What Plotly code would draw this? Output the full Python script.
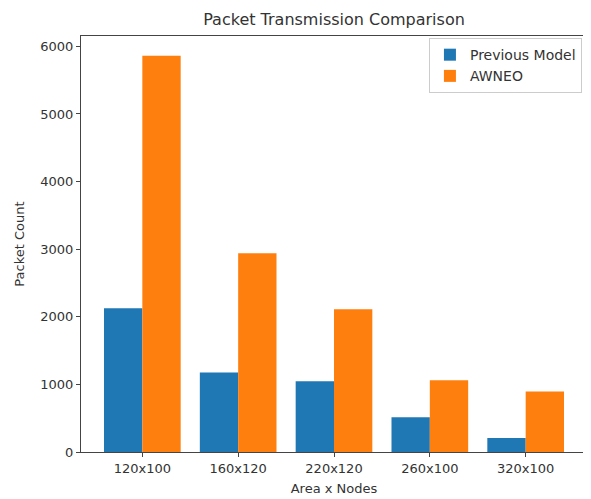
import plotly.graph_objects as go

categories = ["120x100", "160x120", "220x120", "260x100", "320x100"]
previous_model = [2125, 1175, 1048, 515, 207]
awneo = [5860, 2940, 2110, 1060, 893]
y_ticks = [0, 1000, 2000, 3000, 4000, 5000, 6000]

FONT = "DejaVu Sans"
# page body has an 8px default margin; size the figure so it fits the 591x499 window
W, H = 583, 491

fig = go.Figure()
fig.add_trace(go.Bar(x=categories, y=previous_model, name="Previous Model",
                     marker=dict(color="#1f77b4", line=dict(width=0))))
fig.add_trace(go.Bar(x=categories, y=awneo, name="AWNEO",
                     marker=dict(color="#ff7f0e", line=dict(width=0))))

ymax = max(awneo) * 1.05

fig.update_layout(
    width=W, height=H,
    margin=dict(l=73, r=4, t=28, b=47, autoexpand=False),
    paper_bgcolor="white", plot_bgcolor="white",
    font=dict(family=FONT, size=13, color="#333"),
    barmode="group", bargap=0.2, bargroupgap=0,
    title=dict(text="Packet Transmission Comparison", x=(73 + 579) / 2 / W, xanchor="center",
               y=1 - 11 / H, yanchor="middle", font=dict(size=16, color="#333")),
    legend=dict(x=0.99, y=0.995, xanchor="right", yanchor="top",
                bgcolor="rgba(255,255,255,0.8)", bordercolor="#cccccc", borderwidth=1,
                font=dict(size=14), traceorder="normal", itemwidth=30,
                tracegroupgap=8),
    xaxis=dict(range=[-0.64, 4.64], showline=True, linecolor="#444", linewidth=1,
               mirror=True, ticks="outside", ticklen=4, tickcolor="#444",
               showgrid=False, tickfont=dict(size=13), automargin=False,
               title=dict(text="Area x Nodes", font=dict(size=13), standoff=9)),
    yaxis=dict(range=[0, ymax], tickvals=y_ticks, showline=True, linecolor="#444",
               linewidth=1, mirror=True, ticks="outside", ticklen=4, tickcolor="#444",
               showgrid=False, zeroline=False, tickfont=dict(size=13), automargin=False,
               title=dict(text="Packet Count", font=dict(size=13), standoff=12)),
)

fig.write_html("out.html")
